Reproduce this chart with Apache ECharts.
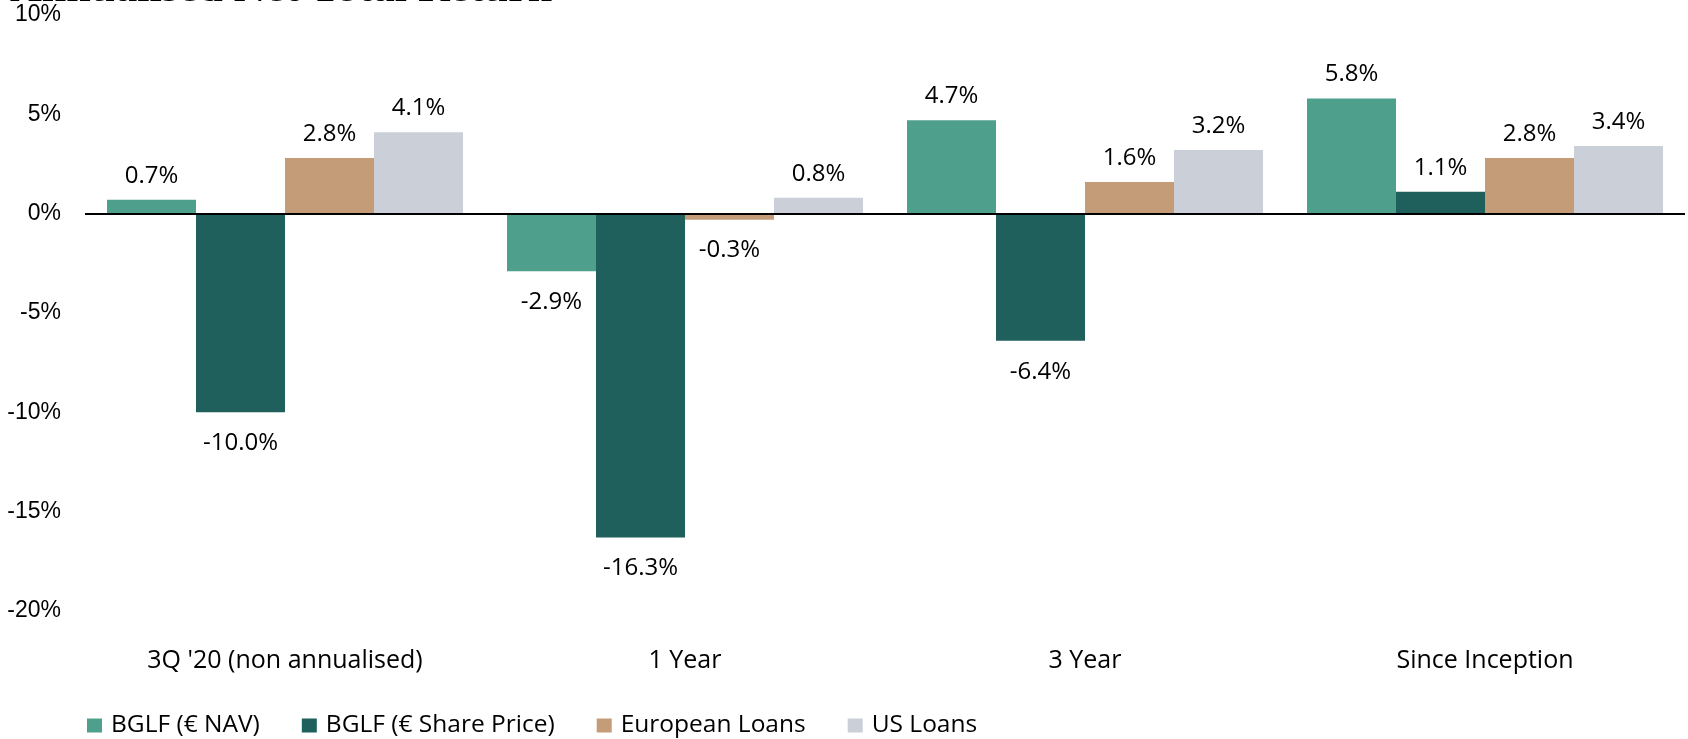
<!DOCTYPE html>
<html>
<head>
<meta charset="utf-8">
<script src="https://cdn.jsdelivr.net/npm/echarts@6/dist/echarts.min.js"></script>
<style>
  html, body { margin: 0; padding: 0; background: #fff; }
  #chart { width: 1688px; height: 739px; }
</style>
</head>
<body>
<div id="chart"></div>
<script>
const categories = ['3Q \'20 (non annualised)', '1 Year', '3 Year', 'Since Inception']
const seriesNames = ['BGLF (€ NAV)', 'BGLF (€ Share Price)', 'European Loans', 'US Loans']
const navValues = [0.7, -2.9, 4.7, 5.8]
const sharePriceValues = [-10.0, -16.3, -6.4, 1.1]
const europeanLoanValues = [2.8, -0.3, 1.6, 2.8]
const usLoanValues = [4.1, 0.8, 3.2, 3.4]
const colors = ['#4e9f8b', '#1f5f5c', '#c49c78', '#cacfd8']

const labelFont = 'Open Sans'

// positive values get their label above the bar, negatives below
function withLabels(values) {
  return values.map(v => ({
    value: v,
    label: {
      position: v >= 0 ? 'top' : 'bottom',
      distance: v >= 0 ? 12 : 19
    }
  }))
}

function makeSeries(name, values, color, withZeroLine) {
  const s = {
    name: name,
    type: 'bar',
    barGap: 0,
    barCategoryGap: '11%',
    itemStyle: { color: color },
    label: {
      show: true,
      color: '#000',
      fontFamily: labelFont,
      fontSize: 24,
      formatter: p => p.value.toFixed(1) + '%'
    },
    data: withLabels(values)
  }
  if (withZeroLine) {
    s.markLine = {
      silent: true,
      symbol: ['none', 'none'],
      label: { show: false },
      lineStyle: { color: '#000', width: 2, type: 'solid' },
      data: [{ yAxis: 0 }],
      z: 10
    }
  }
  return s
}

const chart = echarts.init(document.getElementById('chart'))
chart.setOption({
  animation: false,
  title: {
    text: 'Annualised Net Total Return',
    left: 10,
    top: -32,
    padding: 0,
    textStyle: {
      fontFamily: 'Liberation Serif',
      fontWeight: 'bold',
      fontSize: 44,
      lineHeight: 44,
      color: '#000'
    }
  },
  legend: {
    data: seriesNames,
    left: 87,
    top: 713,
    padding: 0,
    icon: 'rect',
    itemWidth: 15,
    itemHeight: 14,
    itemGap: 42,
    textStyle: {
      fontFamily: labelFont,
      fontSize: 24.5,
      color: '#000',
      padding: [0, 0, 0, 4]
    }
  },
  grid: {
    left: 85,
    right: 3,
    top: 15,
    bottom: 128
  },
  xAxis: {
    type: 'category',
    data: categories,
    axisLine: { show: false },
    axisTick: { show: false },
    axisLabel: {
      margin: 37,
      color: '#000',
      fontFamily: labelFont,
      fontSize: 25
    }
  },
  yAxis: {
    type: 'value',
    min: -20,
    max: 10,
    interval: 5,
    axisLine: { show: false },
    axisTick: { show: false },
    splitLine: { show: false },
    axisLabel: {
      margin: 24,
      color: '#000',
      fontFamily: 'Liberation Sans',
      fontSize: 23,
      formatter: '{value}%'
    }
  },
  series: [
    makeSeries(seriesNames[0], navValues, colors[0], true),
    makeSeries(seriesNames[1], sharePriceValues, colors[1]),
    makeSeries(seriesNames[2], europeanLoanValues, colors[2]),
    makeSeries(seriesNames[3], usLoanValues, colors[3])
  ]
})
</script>
</body>
</html>
